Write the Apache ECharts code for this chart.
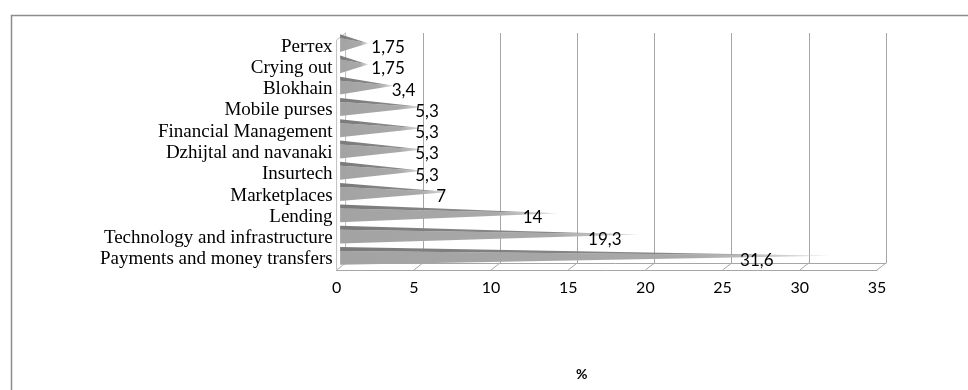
<!DOCTYPE html>
<html>
<head>
<meta charset="utf-8">
<script src="https://cdn.jsdelivr.net/npm/echarts@6/dist/echarts.min.js"></script>
<style>html,body{margin:0;padding:0;background:#fff;}#c{width:968px;height:390px;}</style>
</head>
<body>
<div id="c"></div>
<script>
// Categories, top to bottom as shown
const categories = [
  'Perтex', 'Crying out', 'Blokhain', 'Mobile purses', 'Financial Management',
  'Dzhijtal and navanaki', 'Insurtech', 'Marketplaces', 'Lending',
  'Technology and infrastructure', 'Payments and money transfers'
];
// Share, %
const values = [1.75, 1.75, 3.4, 5.3, 5.3, 5.3, 5.3, 7, 14, 19.3, 31.6];
// Axis ticks
const xTicks = [0, 5, 10, 15, 20, 25, 30, 35];
const axisTitle = '%';

const DX = 9, DY = -7;          // 3D depth offset (style)
const GRID_LINE = '#a6a6a6';

const chart = echarts.init(document.getElementById('c'), null, {renderer: 'canvas'});

function fmt(v) { return String(v).replace('.', ','); }

const option = {
  animation: false,
  backgroundColor: '#ffffff',
  title: {
    text: axisTitle, left: 571, top: 362,
    textStyle: {fontFamily: 'Lato', fontSize: 14, fontWeight: 'bold', color: '#000'}
  },
  graphic: [{
    type: 'rect', left: 9, top: 13, silent: true,
    shape: {width: 1000, height: 420},
    style: {fill: 'none', stroke: '#8c8c8c', lineWidth: 1.5}
  }],
  grid: [
    {left: 336.6, right: 91, top: 36, bottom: 120},
    {left: 336.6 + DX, right: 91 - DX, top: 33, bottom: 120 - DY}
  ],
  xAxis: [
    {
      gridIndex: 0, type: 'value', min: xTicks[0], max: xTicks[xTicks.length - 1], interval: 5,
      axisLine: {show: true, lineStyle: {color: GRID_LINE}},
      axisTick: {show: false}, splitLine: {show: false},
      axisLabel: {fontFamily: 'Lato', fontSize: 16, color: '#000', margin: 10}
    },
    {
      gridIndex: 1, type: 'value', min: xTicks[0], max: xTicks[xTicks.length - 1], interval: 5,
      axisLine: {show: true, lineStyle: {color: GRID_LINE}},
      axisTick: {show: false}, axisLabel: {show: false},
      splitLine: {show: true, lineStyle: {color: GRID_LINE, width: 1}}
    }
  ],
  yAxis: [
    {
      gridIndex: 0, type: 'category', data: categories, inverse: true,
      axisLine: {show: false}, axisTick: {show: false},
      axisLabel: {interval: 0, fontFamily: 'Liberation Serif', fontSize: 19, color: '#000', margin: 4}
    },
    {
      gridIndex: 1, type: 'category', data: categories, inverse: true, show: false
    }
  ],
  series: [
    {
      // floor diagonals and left wall
      type: 'custom', xAxisIndex: 0, yAxisIndex: 0, silent: true, z: 1,
      data: xTicks.map(t => [t, categories.length - 1]),
      renderItem: function (params, api) {
        const cs = params.coordSys;
        const t = api.value(0);
        const x = api.coord([t, 0])[0];
        const yb = cs.y + cs.height;
        const children = [{
          type: 'line',
          shape: {x1: x, y1: yb, x2: x + DX, y2: yb + DY},
          style: {stroke: GRID_LINE, lineWidth: 1}
        }];
        if (params.dataIndex === 0) {
          const yTopBack = cs.y - 3;
          children.push({
            type: 'polygon',
            shape: {points: [[x, yb], [x, yTopBack - DY], [x + DX, yTopBack], [x + DX, yb + DY]]},
            style: {fill: '#ffffff', stroke: '#bfbfbf', lineWidth: 1}
          });
        }
        return {type: 'group', children: children};
      }
    },
    {
      // cone bars
      type: 'custom', xAxisIndex: 0, yAxisIndex: 0, z: 3,
      data: values.map((v, i) => [v, i]),
      encode: {x: 0, y: 1},
      renderItem: function (params, api) {
        const v = api.value(0), c = api.value(1);
        const p0 = api.coord([0, c]);
        const p1 = api.coord([v, c]);
        const band = api.size([0, 1])[1];
        const bx = p0[0] + DX / 2 - 1;
        const cy = p0[1] + DY / 2;
        const tx = p1[0] + DX / 2;
        const h = band * 0.42;
        const lx = api.coord([v * 0.8 + 0.85, c])[0];
        return {
          type: 'group',
          children: [
            {
              type: 'polygon',
              shape: {points: [[bx, cy - h + 4], [bx, cy + h], [tx, cy]]},
              style: {
                fill: new echarts.graphic.LinearGradient(0, 0, 1, 0, [
                  {offset: 0, color: '#a3a3a3'},
                  {offset: 0.72, color: '#a9a9a9'},
                  {offset: 1, color: '#dcdcdc'}
                ])
              }
            },
            {
              type: 'polygon',
              shape: {points: [[bx, cy - h], [bx, cy - h + 4], [tx, cy]]},
              style: {
                fill: new echarts.graphic.LinearGradient(0, 0, 1, 0, [
                  {offset: 0, color: '#7a7a7a'},
                  {offset: 0.75, color: '#8a8a8a'},
                  {offset: 1, color: '#d0d0d0'}
                ])
              }
            },
            {
              type: 'text', z2: 10,
              style: {
                x: lx, y: p0[1] + 1, text: fmt(v),
                fontFamily: 'Lato', fontSize: 17, fill: '#000',
                align: 'left', verticalAlign: 'middle'
              }
            }
          ]
        };
      }
    }
  ]
};
chart.setOption(option);
</script>
</body>
</html>
